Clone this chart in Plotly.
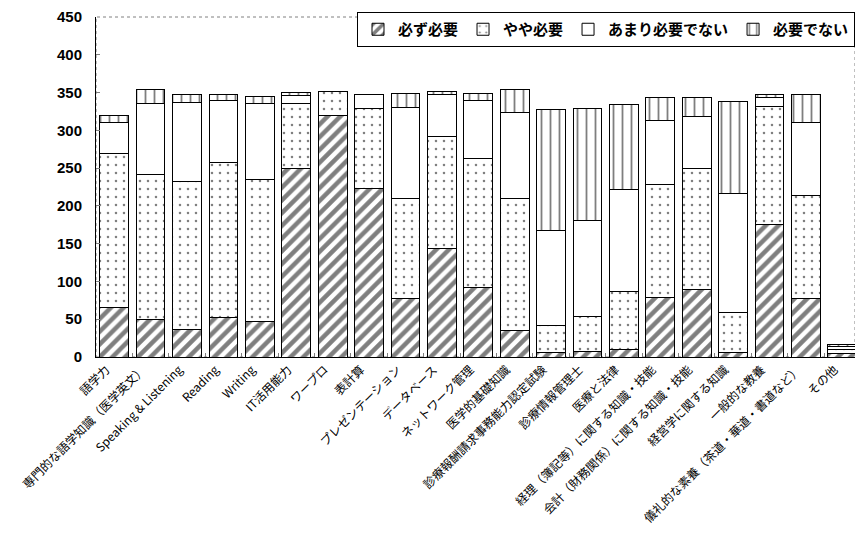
import plotly.graph_objects as go

categories = [
    "語学力", "専門的な語学知識（医学英文）", "Speaking & Listening", "Reading", "Writing",
    "IT活用能力", "ワープロ", "表計算", "プレゼンテーション", "データベース", "ネットワーク管理",
    "医学的基礎知識", "診療報酬請求事務能力認定試験", "診療情報管理士", "医療と法律",
    "経理（簿記等）に関する知識・技能", "会計（財務関係）に関する知識・技能", "経営学に関する知識",
    "一般的な教養", "儀礼的な素養（茶道・華道・書道など）", "その他",
]
hitsuyo = [66, 50, 37, 52, 47, 249, 319, 223, 77, 144, 92, 35, 6, 7, 10, 79, 90, 6, 176, 77, 5]
yaya = [204, 191, 195, 205, 188, 87, 32, 106, 133, 148, 171, 175, 36, 46, 77, 149, 160, 53, 156, 137, 5]
amari = [41, 95, 105, 83, 100, 10, 0, 19, 120, 56, 77, 114, 125, 128, 135, 85, 68, 158, 12, 97, 4]
fuyou = [9, 18, 10, 8, 10, 4, 0, 0, 19, 3, 9, 30, 160, 148, 112, 31, 25, 121, 4, 36, 3]
series_names = ["必ず必要", "やや必要", "あまり必要でない", "必要でない"]
y_ticks = [0, 50, 100, 150, 200, 250, 300, 350, 400, 450]

patterns = [
    dict(shape="/", size=9, solidity=0.5, fgcolor="black", bgcolor="white"),
    dict(shape=".", size=8, solidity=0.08, fgcolor="black", bgcolor="white"),
    dict(shape="", fgcolor="black", bgcolor="white"),
    dict(shape="|", size=9, solidity=0.2, fgcolor="black", bgcolor="white"),
]

fig = go.Figure()
for name, vals, pat in zip(series_names, [hitsuyo, yaya, amari, fuyou], patterns):
    fig.add_trace(go.Bar(
        x=categories, y=vals, name=name,
        marker=dict(color="white", pattern=pat, line=dict(color="black", width=1)),
    ))

fig.update_layout(
    barmode="stack",
    bargap=0.21,
    width=847, height=522,
    margin=dict(l=88, r=0, t=9, b=173, autoexpand=False),
    paper_bgcolor="white", plot_bgcolor="white",
    font=dict(family="Noto Sans CJK JP", color="black"),
    legend=dict(
        orientation="h", x=1, xanchor="right", y=1.0147, yanchor="top",
        bgcolor="white", bordercolor="black", borderwidth=1,
        font=dict(size=15, family="Noto Sans CJK JP", weight="bold", color="black"),
        itemwidth=30, traceorder="normal",
    ),
    showlegend=True,
)
fig.update_yaxes(
    range=[0, 450], tickvals=y_ticks, showgrid=False, zeroline=False,
    showline=True, linecolor="black", linewidth=1, automargin=False,
    ticks="inside", ticklen=4, tickcolor="gray", ticklabelstandoff=10,
    tickfont=dict(family="Liberation Sans", size=15, weight="bold", color="black"),
)
fig.update_xaxes(
    range=[-0.5, 20.35], automargin=False,
    showline=True, linecolor="black", linewidth=1,
    ticks="inside", ticklen=4, tickcolor="gray", tickson="boundaries",
    tickangle=-45, ticklabelshift=-8, ticklabelstandoff=0,
    tickfont=dict(family="Noto Sans CJK JP", size=12, color="black"),
)
fig.add_shape(type="rect", xref="paper", yref="paper", x0=0, x1=1, y0=0, y1=1,
              line=dict(color="gray", width=1, dash="dot"), layer="below")

fig.write_html("out.html")
